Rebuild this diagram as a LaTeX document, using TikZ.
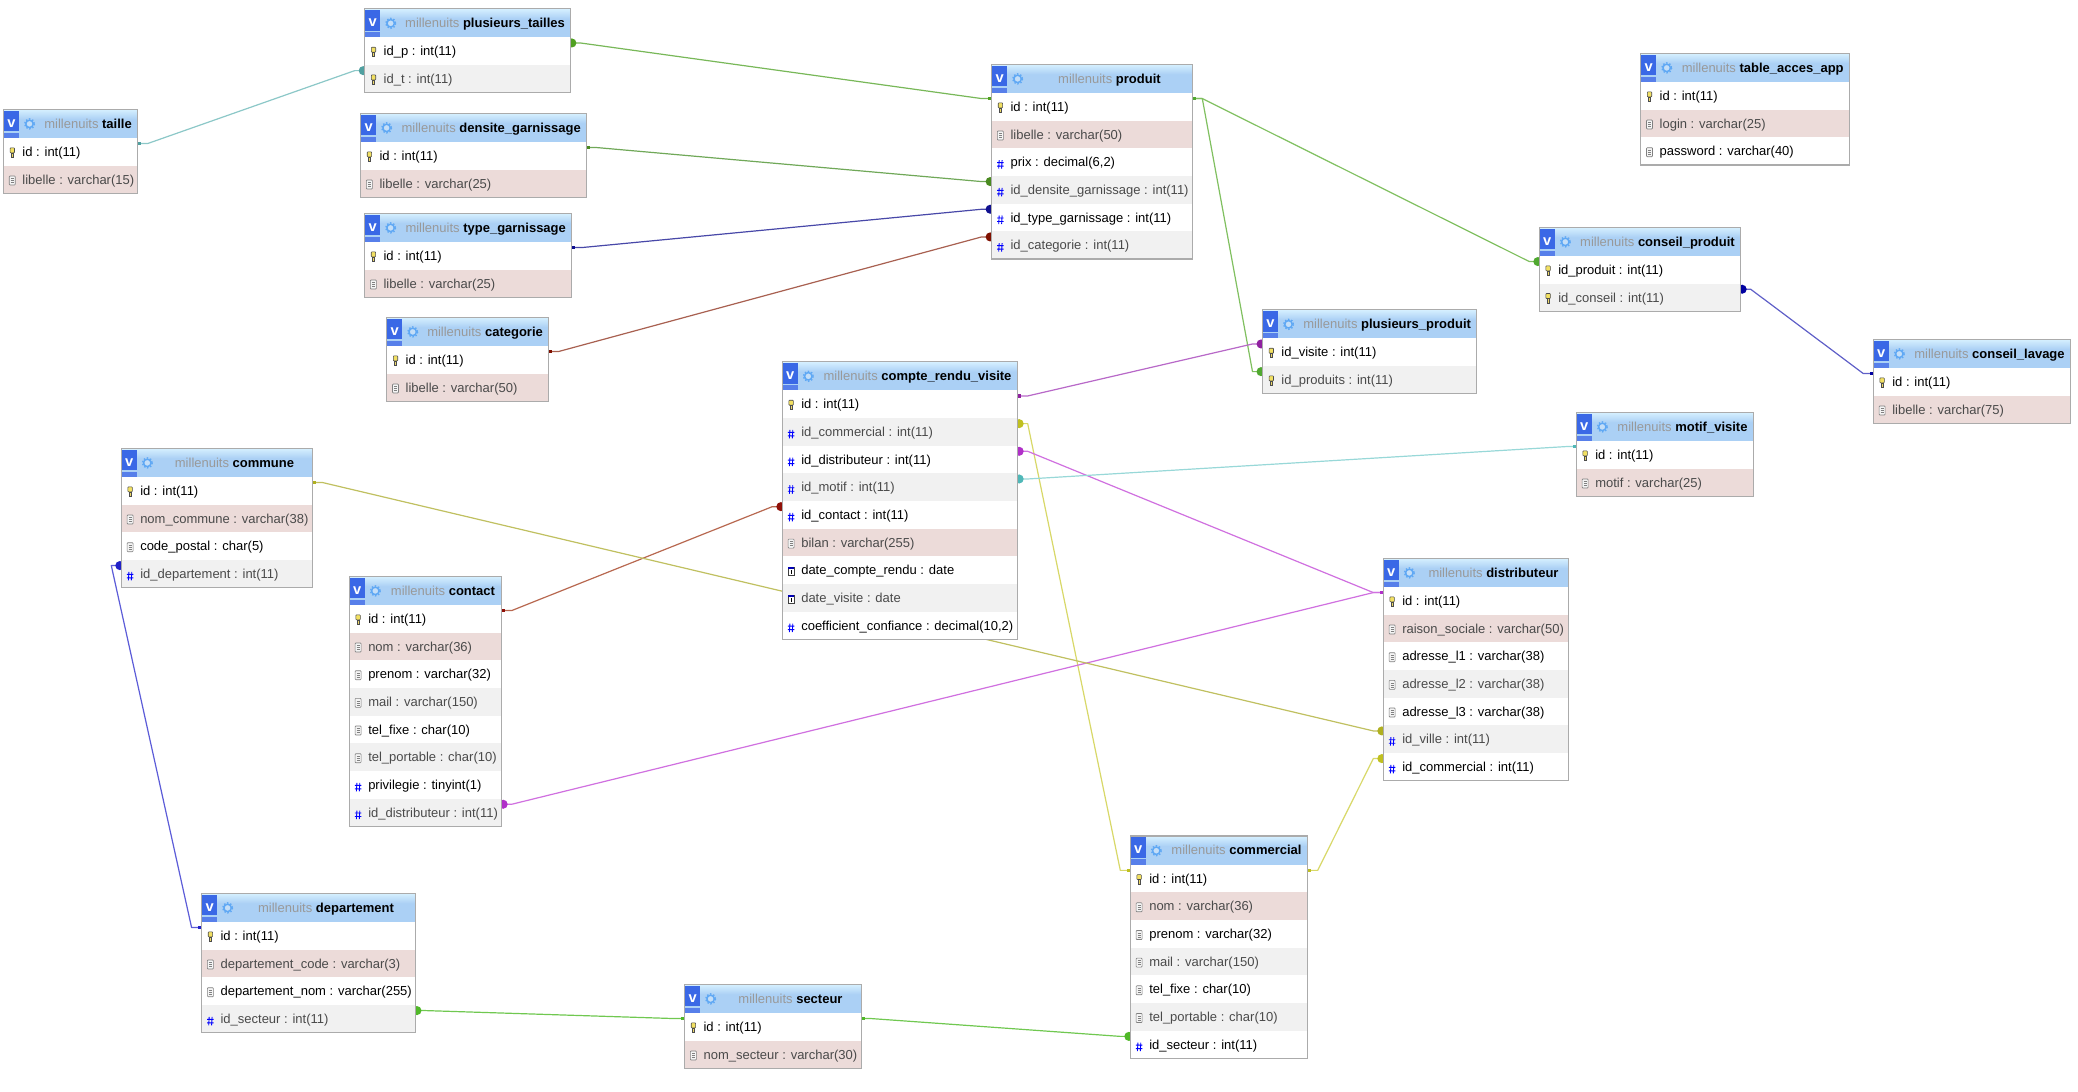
\documentclass[tikz,border=0pt]{standalone}
\usepackage{fontspec}
\setmainfont{Liberation Sans}
\usetikzlibrary{calc}
\pgfdeclarelayer{lines}
\pgfsetlayers{lines,main}
\definecolor{rowbgw}{HTML}{FFFFFF}
\definecolor{rowbgg}{HTML}{F1F1F1}
\definecolor{rowbgp}{HTML}{ECDBD9}
\definecolor{rowtxw}{HTML}{000000}
\definecolor{rowtxg}{HTML}{4A4A4A}
\definecolor{rowtxp}{HTML}{4A4A4A}
\definecolor{hdrtop}{HTML}{D6F0FF}
\definecolor{hdrbody}{HTML}{ABD0F5}
\definecolor{frameg}{HTML}{ABABAB}
\definecolor{vblue}{HTML}{3A68E6}
\definecolor{gearb}{HTML}{5FA8F4}
\definecolor{schema}{HTML}{999999}
\tikzset{
  rowcell/.style={anchor=north west,inner sep=0pt,outer sep=0pt,minimum height=20.75pt},
  celltext/.style={anchor=base west,inner sep=0pt,font=\fontsize{9.75pt}{11pt}\selectfont},
  titletext/.style={anchor=base,inner sep=0pt,font=\fontsize{9.75pt}{11pt}\selectfont},
  vtext/.style={anchor=center,inner sep=0pt,text=white,font=\fontsize{11pt}{11pt}\selectfont\bfseries},
  frame/.style={anchor=north west,inner sep=0pt,outer sep=0pt,draw=frameg,line width=0.95pt},
  conn/.style={line width=0.9pt,line join=round}
}
\def\sgeast{1}\def\sgwest{-1}
\newcommand\iconk{%
  \filldraw[draw=black!70,fill=yellow!70!brown!70,line width=.45pt,rounded corners=.5pt] (-2.2,-4) rectangle (2.2,1);
  \filldraw[draw=black!70,fill=yellow!60!brown!70,line width=.45pt] (-1.2,1) rectangle (1.2,5.5);}
\newcommand\icont{%
  \filldraw[draw=black!50,fill=black!4,line width=.5pt,rounded corners=.6pt] (-3,-3.5) rectangle (3,5.5);
  \foreach \yy in {-1,1,3}{\draw[black!50,line width=.4pt] (-1.6,\yy) -- (1.6,\yy);}}
\newcommand\iconn{%
  \draw[blue,line width=.65pt] (-1.2,-2) -- (-1.7,6.5) (1.7,-2) -- (1.2,6.5) (-3.2,0.5) -- (3.2,0.5) (-3.2,4) -- (3.2,4);}
\newcommand\icond{%
  \filldraw[draw=black!75,fill=white,line width=.5pt] (-3.2,-3) rectangle (3.2,5.5);
  \fill[blue!70!black] (-3.2,-3) rectangle (3.2,-1);
  \draw[black,line width=.5pt] (0,0) -- (0,4);}
% id, x0, y0, x1, name, rows (type/background/text)
\newcommand\dbtable[6]{%
  \pgfmathsetmacro\tw{(#4-#2)*0.75}
  \pgfmathsetmacro\xm{(#2+35+#4)/2}
  \pgfmathsetmacro\yb{#3+28.7}
  \coordinate (#1-nw) at (#2,#3);
  \fill[hdrbody] (#2,#3) rectangle (#4,\yb);
  \shade[top color=hdrtop,bottom color=hdrbody] (#2,#3) rectangle (#4,#3+10);
  \fill[vblue] (#2+0.7,#3+1.3) rectangle (#2+15.3,#3+22);
  \fill[vblue!85!white] (#2+0.7,#3+23.2) rectangle (#2+15.3,#3+28.7);
  \node[vtext] (#1-v) at (#2+8,#3+14) {v};
  \begin{scope}[shift={(#2+26,#3+14.6)}]
    \filldraw[draw=gearb,fill=hdrbody!70!white,line width=1.1pt] (0,0) circle (3.7);
    \draw[gearb,line width=1pt,dash pattern=on 1.1pt off 1.3pt] (0,0) circle (5);
  \end{scope}
  \node[titletext] (#1-title) at (\xm,#3+18.7) {\textcolor{schema}{millenuits} \textbf{#5}};
  \foreach \ty/\rbg/\txt [count=\i] in {#6}{
    \pgfmathsetmacro\yt{\yb+(\i-1)*27.67}
    \pgfmathsetmacro\yc{\yt+13.83}
    \pgfmathsetmacro\yl{\yc+4.5}
    \node[rowcell,fill=rowbg\rbg,minimum width=\tw pt] (#1-\i) at (#2,\yt) {};
    \begin{scope}[shift={(#2+8.8,\yc)}]\csname icon\ty\endcsname\end{scope}
    \node[celltext,text=rowtx\rbg] (#1-\i-t) at (#2+18.7,\yl) {\txt};
    \xdef\lastrow{\i}
  }
  \pgfmathsetmacro\th{(28.7+\lastrow*27.67)*0.75}
  \node[frame,minimum width=\tw pt,minimum height=\th pt] (#1) at (#2,#3) {};
}
% colour, marker, from node, side, to node, side
\newcommand\fk[6]{%
  \coordinate (pa) at ([yshift=6.2pt]#3.#4);
  \coordinate (pb) at ([yshift=6.2pt]#5.#6);
  \edef\sa{\csname sg#4\endcsname}\edef\sb{\csname sg#6\endcsname}
  \draw[conn,draw=#1] (pa) -- ([xshift=\sa*7.5pt]pa) -- ([xshift=\sb*7.5pt]pb) -- (pb);
  \fill[#2] ([xshift=0pt,yshift=-1.4pt]pa) rectangle ([xshift=\sa*2.6pt,yshift=1.4pt]pa);
  \fill[#2] ([xshift=\sb*1.1pt]pb) circle [radius=3.4pt];
}
\begin{document}
\begin{tikzpicture}[x=0.75pt,y=-0.75pt]
\useasboundingbox (0,0) rectangle (2078,1092);
\dbtable{taille}{3.5}{109.3}{137.6}{taille}{k/w/{id : int(11)},t/p/{libelle : varchar(15)}}
\dbtable{ptailles}{364.7}{8.7}{570.4}{plusieurs\_tailles}{k/w/{id\_p : int(11)},k/g/{id\_t : int(11)}}
\dbtable{densite}{360.6}{113.3}{586.8}{densite\_garnissage}{k/w/{id : int(11)},t/p/{libelle : varchar(25)}}
\dbtable{type}{364.6}{213.3}{571.8}{type\_garnissage}{k/w/{id : int(11)},t/p/{libelle : varchar(25)}}
\dbtable{categorie}{386.7}{317.3}{548.4}{categorie}{k/w/{id : int(11)},t/p/{libelle : varchar(50)}}
\dbtable{produit}{991.6}{64.3}{1192.3}{produit}{k/w/{id : int(11)},t/p/{libelle : varchar(50)},n/w/{prix : decimal(6,2)},n/g/{id\_densite\_garnissage : int(11)},n/w/{id\_type\_garnissage : int(11)},n/g/{id\_categorie : int(11)}}
\dbtable{pproduit}{1262.5}{309.7}{1476.8}{plusieurs\_produit}{k/w/{id\_visite : int(11)},k/g/{id\_produits : int(11)}}
\dbtable{acces}{1640.7}{53.3}{1849.7}{table\_acces\_app}{k/w/{id : int(11)},t/p/{login : varchar(25)},t/w/{password : varchar(40)}}
\dbtable{cproduit}{1539.3}{227.3}{1740.7}{conseil\_produit}{k/w/{id\_produit : int(11)},k/g/{id\_conseil : int(11)}}
\dbtable{clavage}{1873.3}{339.3}{2070.7}{conseil\_lavage}{k/w/{id : int(11)},t/p/{libelle : varchar(75)}}
\dbtable{motif}{1576.3}{412.3}{1753.7}{motif\_visite}{k/w/{id : int(11)},t/p/{motif : varchar(25)}}
\dbtable{compte}{782.3}{361.7}{1017.7}{compte\_rendu\_visite}{k/w/{id : int(11)},n/g/{id\_commercial : int(11)},n/w/{id\_distributeur : int(11)},n/g/{id\_motif : int(11)},n/w/{id\_contact : int(11)},t/p/{bilan : varchar(255)},d/w/{date\_compte\_rendu : date},d/g/{date\_visite : date},n/w/{coefficient\_confiance : decimal(10,2)}}
\dbtable{commune}{121.3}{448.3}{312.7}{commune}{k/w/{id : int(11)},t/p/{nom\_commune : varchar(38)},t/w/{code\_postal : char(5)},n/g/{id\_departement : int(11)}}
\dbtable{contact}{349.3}{576.3}{501.7}{contact}{k/w/{id : int(11)},t/p/{nom : varchar(36)},t/w/{prenom : varchar(32)},t/g/{mail : varchar(150)},t/w/{tel\_fixe : char(10)},t/g/{tel\_portable : char(10)},n/w/{privilegie : tinyint(1)},n/g/{id\_distributeur : int(11)}}
\dbtable{departement}{201.6}{893.3}{415.5}{departement}{k/w/{id : int(11)},t/p/{departement\_code : varchar(3)},t/w/{departement\_nom : varchar(255)},n/g/{id\_secteur : int(11)}}
\dbtable{secteur}{684.6}{984.3}{861.4}{secteur}{k/w/{id : int(11)},t/p/{nom\_secteur : varchar(30)}}
\dbtable{distributeur}{1383.3}{558.3}{1568.7}{distributeur}{k/w/{id : int(11)},t/p/{raison\_sociale : varchar(50)},t/w/{adresse\_l1 : varchar(38)},t/g/{adresse\_l2 : varchar(38)},t/w/{adresse\_l3 : varchar(38)},n/g/{id\_ville : int(11)},n/w/{id\_commercial : int(11)}}
\dbtable{commercial}{1130.3}{836.1}{1307.7}{commercial}{k/w/{id : int(11)},t/p/{nom : varchar(36)},t/w/{prenom : varchar(32)},t/g/{mail : varchar(150)},t/w/{tel\_fixe : char(10)},t/g/{tel\_portable : char(10)},n/w/{id\_secteur : int(11)}}
\begin{pgfonlayer}{lines}
\fill[white] (0,0) rectangle (2078,1092);
\definecolor{cA}{HTML}{8CC8C8}\definecolor{mA}{HTML}{50A0A0}
\definecolor{cB}{HTML}{78B858}\definecolor{mB}{HTML}{50A020}
\definecolor{cC}{HTML}{70A858}\definecolor{mC}{HTML}{4A8A20}
\definecolor{cD}{HTML}{4848A8}\definecolor{mD}{HTML}{101090}
\definecolor{cE}{HTML}{A86050}\definecolor{mE}{HTML}{801000}
\definecolor{cF}{HTML}{80C060}\definecolor{mF}{HTML}{50A830}
\definecolor{cG}{HTML}{B868C8}\definecolor{mG}{HTML}{9020A0}
\definecolor{cH}{HTML}{B86850}\definecolor{mH}{HTML}{901008}
\definecolor{cI}{HTML}{D8D868}\definecolor{mI}{HTML}{C0C020}
\definecolor{cJ}{HTML}{D070E0}\definecolor{mJ}{HTML}{B030C8}
\definecolor{cK}{HTML}{98D8D8}\definecolor{mK}{HTML}{50B8B8}
\definecolor{cL}{HTML}{C0C060}\definecolor{mL}{HTML}{B0B020}
\definecolor{cM}{HTML}{5C5CD8}\definecolor{mM}{HTML}{2020C8}
\definecolor{cN}{HTML}{70C850}\definecolor{mN}{HTML}{50B828}
\definecolor{cO}{HTML}{6060C8}\definecolor{mO}{HTML}{0000A0}
\fk{cA}{mA}{taille-1}{east}{ptailles-2}{west}
\fk{cB}{mB}{produit-1}{west}{ptailles-1}{east}
\fk{cC}{mC}{densite-1}{east}{produit-4}{west}
\fk{cD}{mD}{type-1}{east}{produit-5}{west}
\fk{cE}{mE}{categorie-1}{east}{produit-6}{west}
\fk{cF}{mF}{produit-1}{east}{cproduit-1}{west}
\fk{cF}{mF}{produit-1}{east}{pproduit-2}{west}
\fk{cG}{mG}{compte-1}{east}{pproduit-1}{west}
\fk{cH}{mH}{contact-1}{east}{compte-5}{west}
\fk{cI}{mI}{commercial-1}{west}{compte-2}{east}
\fk{cI}{mI}{commercial-1}{east}{distributeur-7}{west}
\fk{cJ}{mJ}{distributeur-1}{west}{compte-3}{east}
\fk{cJ}{mJ}{distributeur-1}{west}{contact-8}{east}
\fk{cK}{mK}{motif-1}{west}{compte-4}{east}
\fk{cL}{mL}{commune-1}{east}{distributeur-6}{west}
\fk{cM}{mM}{departement-1}{west}{commune-4}{west}
\fk{cN}{mN}{secteur-1}{west}{departement-4}{east}
\fk{cN}{mN}{secteur-1}{east}{commercial-7}{west}
\fk{cO}{mO}{clavage-1}{west}{cproduit-2}{east}
\end{pgfonlayer}
\end{tikzpicture}
\end{document}
